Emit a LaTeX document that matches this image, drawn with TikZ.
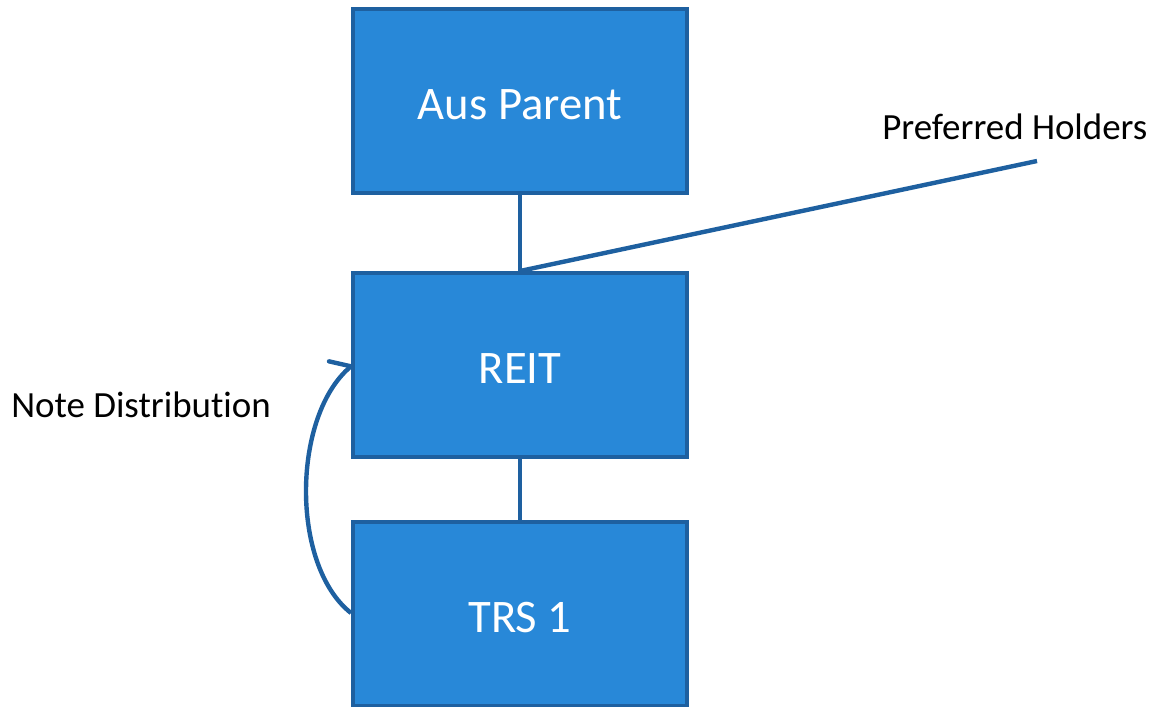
\documentclass[tikz,border=0pt]{standalone}
\usepackage{fontspec}
\setmainfont[Ligatures={NoCommon}]{Carlito}
\definecolor{boxfill}{RGB}{40,136,216}
\definecolor{boxline}{RGB}{30,96,160}
\newcommand{\dnbox}[1]{\raisebox{-2.8pt}[\height][\depth]{#1}}
\begin{document}
\begin{tikzpicture}[x=0.75pt,y=-0.75pt,
  entity/.style={draw=boxline,fill=boxfill,line width=3pt,minimum width=334*0.75pt,minimum height=184*0.75pt,inner sep=0pt,text=white,font=\fontsize{35}{40}\selectfont},
  conn/.style={draw=boxline,line width=3.3pt},
  lbl/.style={font=\fontsize{27.7}{32}\selectfont,inner sep=0pt}]
\useasboundingbox (0,0) rectangle (1151,706);
\node[entity] (aus) at (520,101) {\dnbox{Aus Parent}};
\node[entity] (reit) at (520,365) {\dnbox{REIT}};
\node[entity] (trs) at (520,614) {\dnbox{TRS 1}};
\coordinate (ph) at (1037,161);
\coordinate (tip) at ([yshift=-1pt]reit.west);
\node[lbl,anchor=base west] (phl) at (882,140) {Preferred Holders};
\node[lbl,anchor=base west] (nd) at (11,417) {Note Distribution};
\draw[conn] (aus.south) -- (reit.north);
\draw[conn] (reit.south) -- (trs.north);
\draw[conn] (reit.north) -- (ph);
\draw[conn] ([yshift=0.75pt]trs.west) .. controls (290,565) and (292,415) .. (tip);
\draw[conn,line cap=round,line join=round] (tip) -- ++(-22,-5);
\end{tikzpicture}
\end{document}
